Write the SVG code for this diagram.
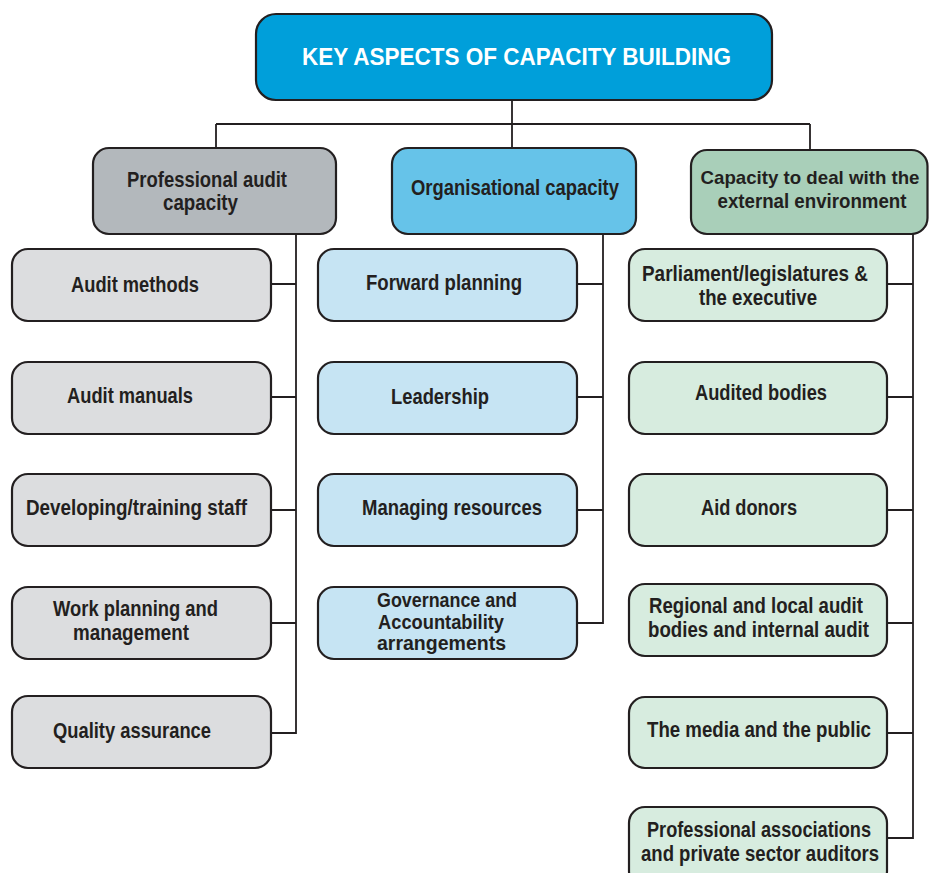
<svg xmlns="http://www.w3.org/2000/svg" width="929" height="873" viewBox="0 0 929 873">
<style>
text{font-family:"Liberation Sans",Arial,sans-serif;font-size:22px;fill:#231f20;text-anchor:middle;font-weight:bold}
.box{stroke:#231f20;stroke-width:2.2}
.g{fill:#dcdddf}.gh{fill:#b3b8bc}
.b{fill:#c6e4f3}.bh{fill:#66c3e9}
.n{fill:#d7ecdf}.nh{fill:#a9cfb9}
.conn{fill:none;stroke:#231f20;stroke-width:1.8}
.title{fill:#fff;font-size:24px}
.s{font-size:20px}
.t{font-size:19px}
</style>
<rect width="929" height="873" fill="#fff"/>
<g id="connectors" class="conn">
<path d="M512 100V148M216 124H810M216 124V148M810 124V150"/>
<path d="M296 234V733H271M271 284H296M271 397H296M271 510H296M271 623H296"/>
<path d="M603 234V623H577M577 284H603M577 397H603M577 510H603"/>
<path d="M913 234V838H887M887 284H913M887 397H913M887 510H913M887 623H913M887 733H913"/>
</g>
<g id="root"><rect class="box" x="256" y="14" width="516" height="86" rx="20" fill="#009fda"/><text class="title" x="516.5" y="65" textLength="429" lengthAdjust="spacingAndGlyphs">KEY ASPECTS OF CAPACITY BUILDING</text></g>
<g id="h1"><rect class="box gh" x="93" y="148" width="243" height="86" rx="16"/><text x="207" y="187" textLength="160" lengthAdjust="spacingAndGlyphs">Professional audit</text><text x="200.5" y="210" textLength="75" lengthAdjust="spacingAndGlyphs">capacity</text></g>
<g id="h2"><rect class="box bh" x="392" y="148" width="244" height="86" rx="16"/><text x="515" y="195" textLength="208" lengthAdjust="spacingAndGlyphs">Organisational capacity</text></g>
<g id="h3"><rect class="box nh" x="691" y="150" width="236.5" height="84" rx="16"/><text class="t" x="810" y="184" textLength="219" lengthAdjust="spacingAndGlyphs">Capacity to deal with the</text><text class="s" x="812" y="208" textLength="189" lengthAdjust="spacingAndGlyphs">external environment</text></g>
<g id="a1"><rect class="box g" x="12" y="249" width="259" height="72" rx="16"/><text x="135" y="292" textLength="128" lengthAdjust="spacingAndGlyphs">Audit methods</text></g>
<g id="a2"><rect class="box g" x="12" y="362" width="259" height="72" rx="16"/><text x="130" y="403" textLength="126" lengthAdjust="spacingAndGlyphs">Audit manuals</text></g>
<g id="a3"><rect class="box g" x="12" y="474" width="259" height="72" rx="16"/><text x="136.5" y="515" textLength="221" lengthAdjust="spacingAndGlyphs">Developing/training staff</text></g>
<g id="a4"><rect class="box g" x="12" y="587" width="259" height="72" rx="16"/><text x="135.5" y="616" textLength="165" lengthAdjust="spacingAndGlyphs">Work planning and</text><text x="131" y="640" textLength="116" lengthAdjust="spacingAndGlyphs">management</text></g>
<g id="a5"><rect class="box g" x="12" y="696" width="259" height="72" rx="16"/><text x="132" y="738" textLength="158" lengthAdjust="spacingAndGlyphs">Quality assurance</text></g>
<g id="b1"><rect class="box b" x="318" y="249" width="259" height="72" rx="16"/><text x="444" y="290" textLength="156" lengthAdjust="spacingAndGlyphs">Forward planning</text></g>
<g id="b2"><rect class="box b" x="318" y="362" width="259" height="72" rx="16"/><text x="440" y="404" textLength="98" lengthAdjust="spacingAndGlyphs">Leadership</text></g>
<g id="b3"><rect class="box b" x="318" y="474" width="259" height="72" rx="16"/><text x="452" y="515" textLength="180" lengthAdjust="spacingAndGlyphs">Managing resources</text></g>
<g id="b4"><rect class="box b" x="318" y="587" width="259" height="72" rx="16"/><text class="s" x="447" y="607" textLength="140" lengthAdjust="spacingAndGlyphs">Governance and</text><text class="s" x="441" y="629" textLength="126" lengthAdjust="spacingAndGlyphs">Accountability</text><text class="s" x="441.5" y="650" textLength="129" lengthAdjust="spacingAndGlyphs">arrangements</text></g>
<g id="c1"><rect class="box n" x="629" y="249" width="258" height="72" rx="16"/><text x="755" y="281" textLength="226" lengthAdjust="spacingAndGlyphs">Parliament/legislatures &amp;</text><text x="758" y="305" textLength="118" lengthAdjust="spacingAndGlyphs">the executive</text></g>
<g id="c2"><rect class="box n" x="629" y="362" width="258" height="72" rx="16"/><text x="761" y="400" textLength="132" lengthAdjust="spacingAndGlyphs">Audited bodies</text></g>
<g id="c3"><rect class="box n" x="629" y="474" width="258" height="72" rx="16"/><text x="749" y="515" textLength="96" lengthAdjust="spacingAndGlyphs">Aid donors</text></g>
<g id="c4"><rect class="box n" x="629" y="584" width="258" height="72" rx="16"/><text x="756" y="613" textLength="214" lengthAdjust="spacingAndGlyphs">Regional and local audit</text><text x="758.5" y="637" textLength="221" lengthAdjust="spacingAndGlyphs">bodies and internal audit</text></g>
<g id="c5"><rect class="box n" x="629" y="697" width="258" height="71" rx="16"/><text x="759" y="737" textLength="224" lengthAdjust="spacingAndGlyphs">The media and the public</text></g>
<g id="c6"><rect class="box n" x="629" y="807" width="258" height="80" rx="16"/><text x="759" y="837" textLength="224" lengthAdjust="spacingAndGlyphs">Professional associations</text><text x="760" y="861" textLength="238" lengthAdjust="spacingAndGlyphs">and private sector auditors</text></g>
</svg>
